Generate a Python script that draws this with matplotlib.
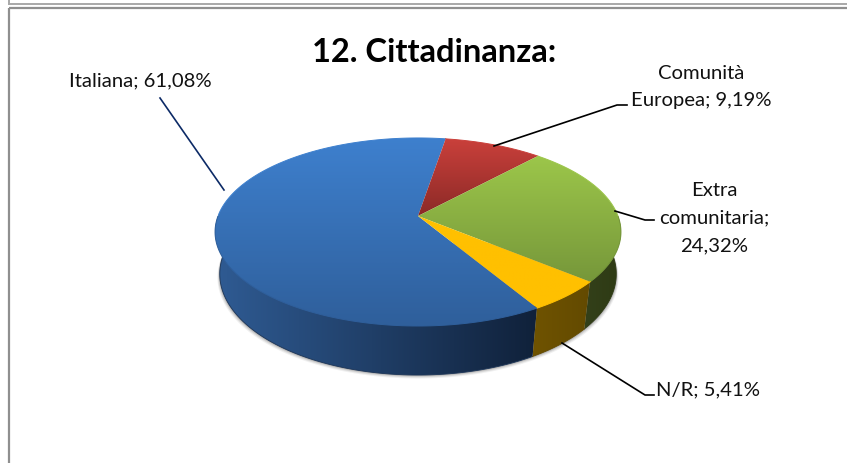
import numpy as np
import matplotlib
matplotlib.use("Agg")
import matplotlib.pyplot as plt
from matplotlib.patches import Polygon, Rectangle

labels = ["Italiana", "Comunità\nEuropea", "Extra\ncomunitaria;", "N/R"]
values = [61.08, 9.19, 24.32, 5.41]
value_texts = ["61,08%", "9,19%", "24,32%", "5,41%"]

# top colour, bottom colour of each slice
top_colors = [("#3e80ce", "#2f5f9b"), ("#ca403b", "#8c2a27"), ("#9cc64a", "#76973a"), ("#ffc000", "#ffc000")]
side_colors = [("#2f5b93", "#10213a"), ("#6e1a18", "#6e1a18"), ("#33401a", "#2e3a14"), ("#6f5300", "#634a00")]

plt.rcParams["font.family"] = ["Lato", "DejaVu Sans"]

W, H = 847, 464
fig = plt.figure(figsize=(W / 100, H / 100), dpi=100)
ax = fig.add_axes([0, 0, 1, 1])
ax.set_xlim(0, W)
ax.set_ylim(H, 0)
ax.axis("off")

CX, CY = 418, 217
START = 149.4  # degrees clockwise from up


def top_ring(a):
    t = np.radians(a)
    X, Y = np.sin(t), -np.cos(t)
    w = 1 - 0.17 * Y
    return CX + 200 * X / w, CY + 91.3 * Y / w


def low_ring(a):
    t = np.radians(a)
    X, Y = np.sin(t), -np.cos(t)
    w = 1 - 0.15 * Y
    return CX + 196 * X / w, 259.8 + 98.8 * Y / w


def gradient(poly_xy, c1, c2, horizontal=False):
    poly = Polygon(poly_xy, closed=True, fc="none", ec="none")
    ax.add_patch(poly)
    x0, y0 = poly_xy.min(axis=0)
    x1, y1 = poly_xy.max(axis=0)
    cm = matplotlib.colors.LinearSegmentedColormap.from_list("g", [c1, c2])
    g = np.linspace(0, 1, 128)
    g = g[None, :] if horizontal else g[:, None]
    im = ax.imshow(g, cmap=cm, extent=(x0, x1, y1, y0), aspect="auto", zorder=3, interpolation="bilinear")
    im.set_clip_path(poly)
    ax.set_xlim(0, W)
    ax.set_ylim(H, 0)


# soft shadow under the pie
a = np.linspace(80, 280, 200)
for off, alpha in zip([3.5, 2.5, 1.5, 0.7], [0.08, 0.12, 0.16, 0.2]):
    x, y = low_ring(a)
    x = CX + (x - CX) * (1 + off / 300)
    ax.add_patch(Polygon(np.c_[x, y + off], closed=True, fc="#404040", ec="none", alpha=alpha, zorder=1))

# slices run clockwise from the start angle
edges = START + 3.6 * np.cumsum([0] + values)

for i in range(len(values)):
    a = np.linspace(edges[i], edges[i + 1], 200)
    Y = -np.cos(np.radians(a))
    vis = Y > -0.02
    if vis.any():
        a = a[vis]
        xt, yt = top_ring(a)
        xl, yl = low_ring(a)
        # band starts a little under the top face so no gap shows at the seam
        lift = 4 * np.clip(Y[vis] - 0.1, 0, 1)
        poly = np.r_[np.c_[xt, yt - lift], np.c_[xl, yl][::-1]]
        gradient(poly, side_colors[i][0], side_colors[i][1], horizontal=True)
        ax.plot(xl, yl, color=side_colors[i][1] if i else "#1c3558", lw=0.6, zorder=3)

for i in range(len(values)):
    a = np.linspace(edges[i], edges[i + 1], 200)
    xt, yt = top_ring(a)
    poly = np.r_[[[CX, CY]], np.c_[xt, yt]]
    gradient(poly, top_colors[i][0], top_colors[i][1])
    # rim line smooths the clipped edge, darker on the front half
    Y = -np.cos(np.radians(a))
    ax.plot(xt[Y > 0], yt[Y > 0], color=top_colors[i][1], lw=0.7, zorder=3)
    ax.plot(xt[Y <= 0], yt[Y <= 0], color=top_colors[i][0], lw=0.7, zorder=3)

# frames
frame = "#8f8f8f"
ax.add_patch(Rectangle((8.5, 8.5), W + 20, H + 20, fc="none", ec=frame, lw=1.6, zorder=5))
ax.plot([8.5, W], [4.5, 4.5], color="#a8a8a8", lw=1.4, zorder=5)
ax.plot([8.5, 8.5], [0, 4.5], color="#a8a8a8", lw=1.4, zorder=5)

# title and labels
ax.text(434, 52, "12. Cittadinanza:", ha="center", va="center", fontsize=23.5, fontweight="bold", color="black", zorder=6)

label_pos = [(140, 81), (701, 87), (714, 218), (708, 390)]
leaders = [
    ([160, 224], [99, 191], "#0c2a66"),
    ([494, 617, 627], [147, 106, 106], "black"),
    ([615, 645, 654], [212, 221, 221], "black"),
    ([562, 645, 654], [344, 396, 396], "black"),
]
for name, val, pos in zip(labels, value_texts, label_pos):
    sep = " " if name.endswith(";") else "; "
    if name.startswith("Extra"):
        txt = name + "\n" + val
    else:
        txt = name + sep + val
    ax.text(pos[0], pos[1], txt, ha="center", va="center", fontsize=14.6, color="#111111",
            linespacing=1.75, zorder=6)
for lx, ly, c in leaders:
    ax.plot(lx, ly, color=c, lw=1.2, zorder=4)

fig.savefig("out.png", dpi=100)
